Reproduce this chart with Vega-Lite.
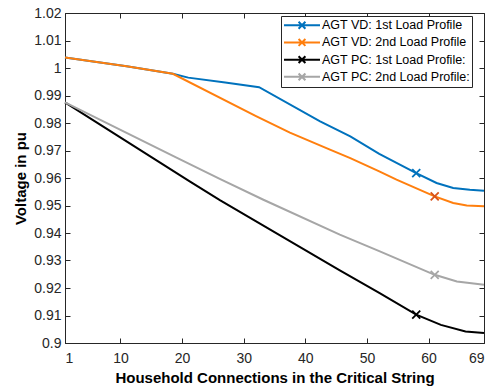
{
  "$schema": "https://vega.github.io/schema/vega-lite/v6.json",
  "width": 419,
  "height": 330,
  "autosize": {"type": "none"},
  "padding": {"left": 65, "top": 13, "right": 13, "bottom": 45},
  "background": "white",
  "config": {
    "font": "Liberation Sans",
    "view": {"stroke": "#262626", "strokeWidth": 1},
    "axis": {
      "grid": false,
      "domainColor": "#262626",
      "tickColor": "#262626",
      "labelColor": "#262626",
      "titleColor": "#000000",
      "labelFont": "Liberation Sans",
      "titleFont": "Liberation Sans",
      "labelFontSize": 14,
      "titleFontSize": 15,
      "titleFontWeight": "bold",
      "tickSize": -5,
      "labelPadding": 9
    }
  },
  "data": {
    "values": [
      {"s": "AGT VD: 1st Load Profile", "x": 1, "v": 1.0038},
      {"s": "AGT VD: 1st Load Profile", "x": 11, "v": 1.0006},
      {"s": "AGT VD: 1st Load Profile", "x": 18.5, "v": 0.9979},
      {"s": "AGT VD: 1st Load Profile", "x": 21, "v": 0.9965},
      {"s": "AGT VD: 1st Load Profile", "x": 27, "v": 0.9947},
      {"s": "AGT VD: 1st Load Profile", "x": 32.5, "v": 0.993},
      {"s": "AGT VD: 1st Load Profile", "x": 42.4, "v": 0.9806},
      {"s": "AGT VD: 1st Load Profile", "x": 47.3, "v": 0.9751},
      {"s": "AGT VD: 1st Load Profile", "x": 52, "v": 0.9688},
      {"s": "AGT VD: 1st Load Profile", "x": 58, "v": 0.9618, "m": 1},
      {"s": "AGT VD: 1st Load Profile", "x": 61.3, "v": 0.9582},
      {"s": "AGT VD: 1st Load Profile", "x": 64, "v": 0.9564},
      {"s": "AGT VD: 1st Load Profile", "x": 66.7, "v": 0.9557},
      {"s": "AGT VD: 1st Load Profile", "x": 69, "v": 0.9554},
      {"s": "AGT VD: 2nd Load Profile", "x": 1, "v": 1.0038},
      {"s": "AGT VD: 2nd Load Profile", "x": 11, "v": 1.0006},
      {"s": "AGT VD: 2nd Load Profile", "x": 18.5, "v": 0.9979},
      {"s": "AGT VD: 2nd Load Profile", "x": 32, "v": 0.9825},
      {"s": "AGT VD: 2nd Load Profile", "x": 37.5, "v": 0.9765},
      {"s": "AGT VD: 2nd Load Profile", "x": 44, "v": 0.9703},
      {"s": "AGT VD: 2nd Load Profile", "x": 47.3, "v": 0.9672},
      {"s": "AGT VD: 2nd Load Profile", "x": 52, "v": 0.9624},
      {"s": "AGT VD: 2nd Load Profile", "x": 54.8, "v": 0.9594},
      {"s": "AGT VD: 2nd Load Profile", "x": 61, "v": 0.9533, "m": 1},
      {"s": "AGT VD: 2nd Load Profile", "x": 64, "v": 0.9509},
      {"s": "AGT VD: 2nd Load Profile", "x": 66.2, "v": 0.95},
      {"s": "AGT VD: 2nd Load Profile", "x": 69, "v": 0.9497},
      {"s": "AGT PC: 1st Load Profile:", "x": 1, "v": 0.9875},
      {"s": "AGT PC: 1st Load Profile:", "x": 15.6, "v": 0.9668},
      {"s": "AGT PC: 1st Load Profile:", "x": 21.3, "v": 0.9587},
      {"s": "AGT PC: 1st Load Profile:", "x": 26.2, "v": 0.9519},
      {"s": "AGT PC: 1st Load Profile:", "x": 45.6, "v": 0.9264},
      {"s": "AGT PC: 1st Load Profile:", "x": 52, "v": 0.9182},
      {"s": "AGT PC: 1st Load Profile:", "x": 58, "v": 0.9103, "m": 1},
      {"s": "AGT PC: 1st Load Profile:", "x": 62, "v": 0.9066},
      {"s": "AGT PC: 1st Load Profile:", "x": 66, "v": 0.9042},
      {"s": "AGT PC: 1st Load Profile:", "x": 69, "v": 0.9036},
      {"s": "AGT PC: 2nd Load Profile:", "x": 1, "v": 0.9875},
      {"s": "AGT PC: 2nd Load Profile:", "x": 19.1, "v": 0.9674},
      {"s": "AGT PC: 2nd Load Profile:", "x": 26.2, "v": 0.9596},
      {"s": "AGT PC: 2nd Load Profile:", "x": 33.2, "v": 0.9521},
      {"s": "AGT PC: 2nd Load Profile:", "x": 45.6, "v": 0.9394},
      {"s": "AGT PC: 2nd Load Profile:", "x": 52, "v": 0.9334},
      {"s": "AGT PC: 2nd Load Profile:", "x": 61, "v": 0.9248, "m": 1},
      {"s": "AGT PC: 2nd Load Profile:", "x": 64.6, "v": 0.9224},
      {"s": "AGT PC: 2nd Load Profile:", "x": 69, "v": 0.9212}
    ]
  },
  "layer": [
    {
      "mark": {"type": "line", "strokeWidth": 2},
      "encoding": {
        "x": {
          "field": "x", "type": "quantitative",
          "scale": {"domain": [1, 69], "nice": false, "zero": false},
          "axis": {"orient": "bottom", "values": [1, 10, 20, 30, 40, 50, 60, 69], "title": "Household Connections in the Critical String", "labelPadding": 13, "titlePadding": 5}
        },
        "y": {
          "field": "v", "type": "quantitative",
          "scale": {"domain": [0.9, 1.02], "nice": false, "zero": false},
          "axis": {"orient": "left", "values": [0.9, 0.91, 0.92, 0.93, 0.94, 0.95, 0.96, 0.97, 0.98, 0.99, 1, 1.01, 1.02], "format": ".2~f", "title": "Voltage in pu", "titlePadding": 5}
        },
        "color": {
          "field": "s", "type": "nominal",
          "scale": {
            "domain": ["AGT VD: 1st Load Profile", "AGT VD: 2nd Load Profile", "AGT PC: 1st Load Profile:", "AGT PC: 2nd Load Profile:"],
            "range": ["#0072BD", "#FF7F0E", "#000000", "#A6A6A6"]
          },
          "legend": {
            "orient": "none", "legendX": 216, "legendY": 3,
            "title": null,
            "strokeColor": "#262626", "fillColor": "white", "padding": 2,
            "labelFont": "Liberation Sans", "labelFontSize": 12.5, "labelColor": "#000000",
            "symbolType": "M-1,0L1,0M-0.19,-0.19L0.19,0.19M0.19,-0.19L-0.19,0.19",
            "symbolSize": 1296, "symbolStrokeWidth": 2,
            "clipHeight": 14.5, "rowPadding": 2.2, "labelOffset": 1
          }
        }
      }
    },
    {
      "transform": [{"filter": "datum.m == 1"}],
      "mark": {"type": "point", "shape": "M-1,-1L1,1M1,-1L-1,1", "filled": false, "size": 64, "strokeWidth": 1.8, "opacity": 1},
      "encoding": {
        "x": {"field": "x", "type": "quantitative", "axis": {"orient": "top", "labels": false, "title": null, "domain": false, "values": [1, 10, 20, 30, 40, 50, 60, 69]}},
        "y": {"field": "v", "type": "quantitative", "axis": {"orient": "right", "labels": false, "title": null, "domain": false, "values": [0.9, 0.91, 0.92, 0.93, 0.94, 0.95, 0.96, 0.97, 0.98, 0.99, 1, 1.01, 1.02]}},
        "stroke": {
          "field": "s", "type": "nominal",
          "scale": {
            "domain": ["AGT VD: 1st Load Profile", "AGT VD: 2nd Load Profile", "AGT PC: 1st Load Profile:", "AGT PC: 2nd Load Profile:"],
            "range": ["#0072BD", "#D95319", "#000000", "#A6A6A6"]
          },
          "legend": null
        }
      }
    }
  ]
}
